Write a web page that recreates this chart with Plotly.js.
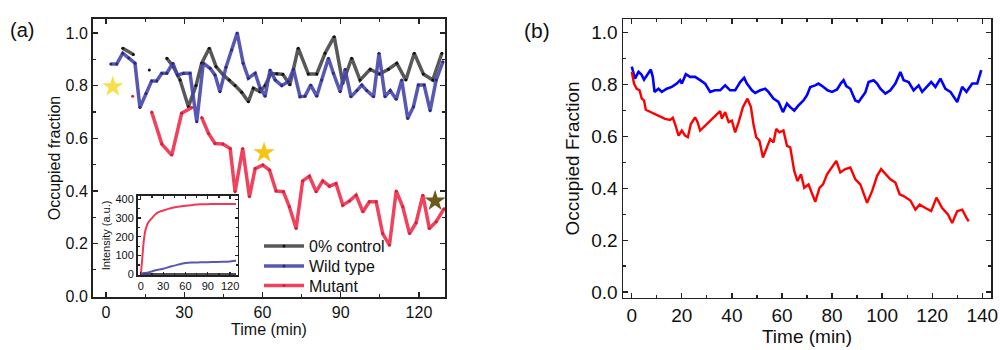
<!DOCTYPE html>
<html>
<head>
<meta charset="utf-8">
<script src="https://cdn.plot.ly/plotly-3.0.1.min.js"></script>
<style>html,body{margin:0;padding:0;background:#fff}#chart{width:1000px;height:350px}</style>
</head>
<body>
<div id="chart"></div>
<script>
// ---------- Panel (a): occupied fraction ----------
const ctrlX = [6.4, 10.5, null, 16.6, null, 23.3, 25.8, 28.4, 31.6, 34.5, 36.7, 39.6, 42.2, 45.0, 47.3, 49.5, 52.0, 54.6, 56.5, 59.0, 61.0, 63.2, 65.5, 67.8, 70.5, 73.7, 77.6, 80.8, 84.0, 87.5, 90.8, 94.2, 97.4, 101.3, 104.9, 108.3, 111.5, 115.0, 118.2, 121.7, 125.3, 128.8];
const ctrlY = [0.942, 0.918, null, 0.859, null, 0.904, 0.872, 0.821, 0.720, 0.800, 0.885, 0.942, 0.872, 0.840, 0.821, 0.800, 0.775, 0.739, 0.790, 0.777, 0.800, 0.845, 0.845, 0.843, 0.803, 0.942, 0.844, 0.844, 0.923, 0.986, 0.809, 0.904, 0.821, 0.862, 0.844, 0.862, 0.885, 0.821, 0.923, 0.844, 0.821, 0.923];

const wildX = [1.8, 4.1, 6.4, 8.7, 11.1, 13.0, 15.3, 17.5, 19.4, 21.4, 23.3, 25.6, 27.4, 29.7, 32.2, 34.8, 37.3, 39.9, 41.8, 43.7, 46.0, 48.2, 50.3, 52.6, 54.6, 57.2, 59.1, 61.0, 62.9, 64.9, 67.4, 69.9, 71.9, 74.4, 76.3, 78.5, 80.8, 82.7, 85.3, 87.2, 89.8, 91.7, 93.9, 96.2, 98.1, 100.0, 102.6, 104.7, 107.0, 109.0, 111.3, 113.4, 115.7, 117.9, 119.8, 122.0, 124.3, 126.6, 129.2];
const wildY = [0.882, 0.882, 0.923, 0.905, 0.885, 0.717, 0.770, 0.818, 0.818, 0.847, 0.847, 0.885, 0.840, 0.847, 0.847, 0.663, 0.885, 0.866, 0.840, 0.777, 0.870, 0.935, 1.000, 0.885, 0.828, 0.847, 0.790, 0.760, 0.859, 0.821, 0.800, 0.815, 0.862, 0.758, 0.760, 0.802, 0.760, 0.821, 0.904, 0.847, 0.777, 0.862, 0.758, 0.781, 0.802, 0.781, 0.758, 0.923, 0.758, 0.781, 0.748, 0.821, 0.675, 0.720, 0.802, 0.802, 0.705, 0.821, 0.891];

const mutX = [10.2, null, 17.5, 21.4, 25.2, 29.0, 32.9, null, 36.7, 39.3, 41.8, 44.8, 47.6, 49.5, 52.4, 55.0, 57.2, 60.1, 62.7, 65.2, 68.0, 70.3, 72.9, 75.4, 78.0, 80.6, 83.1, 85.7, 88.2, 90.8, 93.4, 95.9, 98.5, 101.0, 103.6, 106.1, 108.7, 111.3, 113.8, 116.4, 118.9, 121.5, 124.0, 126.6, 129.6];
const mutY = [0.760, null, 0.700, 0.578, 0.536, 0.695, 0.717, null, 0.679, 0.618, 0.580, 0.578, 0.561, 0.397, 0.561, 0.378, 0.485, 0.498, 0.479, 0.400, 0.397, 0.340, 0.257, 0.438, 0.456, 0.397, 0.438, 0.418, 0.428, 0.346, 0.362, 0.384, 0.321, 0.359, 0.359, 0.238, 0.194, 0.400, 0.340, 0.238, 0.279, 0.384, 0.257, 0.283, 0.332];

const starX = [2.6, 60.6, 126.2];
const starY = [0.796, 0.545, 0.362];
const starColors = ['#f8e04c', '#f5c414', '#6c5a1c'];

// ---------- Inset: intensity ----------
const insX = [0, 2, 4, 6, 8, 10, 15, 20, 25, 30, 40, 50, 60, 70, 80, 90, 100, 110, 120, 128];
const insMut = [0, 90, 180, 232, 258, 276, 300, 322, 333, 340, 352, 360, 366, 370, 373, 374, 375, 375, 375, 375];
const insWild = [5, 6, 7, 8, 9, 10, 16, 22, 26, 30, 42, 52, 60, 63, 64, 65, 66, 67, 69, 72];
const insCtrl = [2, 2, 2, 2, 2, 2, 2, 2, 2, 2, 2, 2, 2, 2, 2, 2, 2, 2, 2, 2];

// ---------- Panel (b) ----------
const bBlueX = [0, 1.3, 2.7, 3.8, 4.9, 6.0, 7.6, 8.4, 9.1, 10.7, 12.0, 14.0, 16.0, 18.0, 19.3, 20.0, 21.6, 23.3, 25.3, 27.3, 29.3, 31.3, 33.3, 35.3, 37.3, 39.3, 41.3, 43.3, 44.9, 46.0, 48.0, 49.3, 51.3, 53.3, 54.6, 56.6, 58.6, 60.4, 62.0, 63.3, 64.9, 66.6, 68.6, 70.0, 71.3, 73.3, 74.6, 76.6, 78.2, 80.0, 82.0, 83.6, 84.6, 85.7, 87.3, 89.3, 90.6, 92.0, 93.3, 94.6, 96.6, 98.0, 99.3, 101.3, 103.3, 105.3, 107.3, 108.6, 110.6, 112.6, 114.6, 116.0, 118.0, 119.6, 121.3, 123.3, 125.3, 127.3, 130.0, 132.0, 133.7, 136.0, 138.0, 139.6];
const bBlueY = [0.869, 0.823, 0.849, 0.840, 0.819, 0.836, 0.858, 0.830, 0.772, 0.784, 0.772, 0.784, 0.791, 0.804, 0.817, 0.804, 0.840, 0.830, 0.830, 0.817, 0.804, 0.772, 0.778, 0.778, 0.797, 0.778, 0.778, 0.810, 0.826, 0.804, 0.778, 0.768, 0.778, 0.784, 0.772, 0.746, 0.733, 0.694, 0.727, 0.713, 0.700, 0.720, 0.739, 0.759, 0.791, 0.797, 0.804, 0.791, 0.778, 0.772, 0.781, 0.806, 0.817, 0.794, 0.784, 0.739, 0.733, 0.752, 0.770, 0.810, 0.817, 0.804, 0.784, 0.765, 0.778, 0.804, 0.849, 0.817, 0.810, 0.778, 0.797, 0.772, 0.791, 0.810, 0.791, 0.823, 0.784, 0.772, 0.733, 0.791, 0.772, 0.804, 0.804, 0.856];

const bRedX = [0, 0.9, 2.0, 3.1, 4.0, 4.9, 5.6, 13.3, 15.3, 16.4, 17.3, 18.7, 20.0, 21.3, 22.4, 23.6, 25.3, 26.3, 27.3, 35.3, 36.0, 37.3, 38.7, 40.0, 41.3, 42.7, 44.4, 46.2, 47.6, 48.6, 49.7, 51.0, 52.4, 53.7, 55.3, 56.6, 57.7, 59.0, 60.6, 62.0, 63.3, 64.9, 66.2, 67.6, 68.9, 70.6, 72.0, 73.3, 75.0, 76.4, 78.0, 80.0, 81.7, 83.3, 85.3, 87.3, 89.3, 91.3, 92.9, 94.0, 96.0, 98.0, 99.6, 101.3, 103.3, 105.3, 107.0, 108.6, 111.3, 113.3, 115.0, 117.3, 119.6, 121.7, 124.0, 126.3, 128.0, 130.0, 132.0, 133.7, 134.6];
const bRedY = [0.849, 0.804, 0.784, 0.778, 0.746, 0.739, 0.703, 0.668, 0.664, 0.672, 0.648, 0.603, 0.623, 0.603, 0.597, 0.648, 0.674, 0.655, 0.623, 0.698, 0.668, 0.694, 0.655, 0.661, 0.616, 0.655, 0.713, 0.746, 0.713, 0.648, 0.597, 0.584, 0.519, 0.551, 0.590, 0.577, 0.629, 0.616, 0.623, 0.564, 0.558, 0.467, 0.428, 0.454, 0.402, 0.415, 0.383, 0.348, 0.402, 0.415, 0.454, 0.480, 0.506, 0.461, 0.474, 0.480, 0.435, 0.415, 0.370, 0.344, 0.389, 0.448, 0.474, 0.454, 0.435, 0.422, 0.377, 0.370, 0.353, 0.318, 0.337, 0.324, 0.312, 0.364, 0.324, 0.299, 0.266, 0.312, 0.318, 0.286, 0.273];

const FONT = 'Arial, "Liberation Sans", Helvetica, sans-serif';

const traces = [
  {x: ctrlX, y: ctrlY, name: '0% control', mode: 'lines+markers', xaxis: 'x', yaxis: 'y', legend: 'legend',
   line: {color: 'rgba(70,70,70,0.9)', width: 3.5}, marker: {color: '#111', size: 3}, connectgaps: false},
  {x: wildX, y: wildY, name: 'Wild type', mode: 'lines+markers', xaxis: 'x', yaxis: 'y', legend: 'legend2',
   line: {color: 'rgba(70,70,170,0.9)', width: 3.5}, marker: {color: '#2a2a80', size: 3}, connectgaps: false},
  {x: mutX, y: mutY, name: 'Mutant', mode: 'lines+markers', xaxis: 'x', yaxis: 'y', legend: 'legend3',
   line: {color: 'rgba(240,45,75,0.9)', width: 3.5}, marker: {color: '#d0203c', size: 3}, connectgaps: false},
  {x: starX, y: starY, mode: 'markers', xaxis: 'x', yaxis: 'y', showlegend: false, hoverinfo: 'skip',
   marker: {symbol: 'star', size: 16, color: starColors, line: {width: 0}}},
  // inset
  {x: insX, y: insCtrl, mode: 'lines', xaxis: 'x3', yaxis: 'y3', showlegend: false,
   line: {color: 'rgba(60,60,60,0.9)', width: 2}},
  {x: insX, y: insWild, mode: 'lines', xaxis: 'x3', yaxis: 'y3', showlegend: false,
   line: {color: 'rgba(70,70,170,0.9)', width: 2, shape: 'spline'}},
  {x: insX, y: insMut, mode: 'lines', xaxis: 'x3', yaxis: 'y3', showlegend: false,
   line: {color: 'rgba(240,45,75,0.95)', width: 2, shape: 'spline'}},
  // panel b
  {x: bBlueX, y: bBlueY, mode: 'lines', xaxis: 'x2', yaxis: 'y2', showlegend: false,
   line: {color: '#0000ff', width: 2.6}},
  {x: bRedX, y: bRedY, mode: 'lines', xaxis: 'x2', yaxis: 'y2', showlegend: false,
   line: {color: '#ff0000', width: 2.4}}
];

const axBase = {showgrid: false, zeroline: false, showline: true, mirror: 'allticks',
  ticks: 'inside', ticklen: 5, tickwidth: 1.2, tickcolor: '#222', linecolor: '#222'};

const legBase = {xanchor: 'left', yanchor: 'top', bgcolor: 'rgba(0,0,0,0)',
  font: {size: 16, family: FONT}, itemwidth: 40, tracegroupgap: 0};

const layout = {
  width: 1000, height: 350,
  margin: {l: 0, r: 0, t: 0, b: 0},
  paper_bgcolor: '#fff', plot_bgcolor: '#fff',
  font: {family: FONT, color: '#111'},
  showlegend: true,
  legend: Object.assign({}, legBase, {x: 0.259, y: 0.3451}),
  legend2: Object.assign({}, legBase, {x: 0.259, y: 0.2880}),
  legend3: Object.assign({}, legBase, {x: 0.259, y: 0.2329}),
  xaxis: Object.assign({}, axBase, {domain: [0.093, 0.445], anchor: 'y', range: [-5, 130],
    tickmode: 'linear', tick0: 0, dtick: 30, linewidth: 2,
    minor: {dtick: 15, ticklen: 3, tickcolor: '#222', ticks: 'inside'},
    tickfont: {size: 16}, title: {text: 'Time (min)', font: {size: 16}, standoff: 3}}),
  yaxis: Object.assign({}, axBase, {domain: [0.1514, 0.9457], anchor: 'x', range: [-0.003, 1.053],
    tickmode: 'linear', tick0: 0, dtick: 0.2, tickformat: '.1f', linewidth: 2,
    minor: {dtick: 0.1, ticklen: 3, tickcolor: '#222', ticks: 'inside'},
    tickfont: {size: 16}, title: {text: 'Occupied fraction', font: {size: 16}, standoff: 1}}),
  xaxis3: Object.assign({}, axBase, {domain: [0.1375, 0.2375], anchor: 'y3', range: [-4.5, 130],
    tickmode: 'linear', tick0: 0, dtick: 30, linewidth: 1.5, ticklen: 3,
    minor: {dtick: 15, ticklen: 2, tickcolor: '#222', ticks: 'inside'},
    tickfont: {size: 11}}),
  yaxis3: Object.assign({}, axBase, {domain: [0.2134, 0.4414], anchor: 'x3', range: [-5, 420],
    tickmode: 'linear', tick0: 0, dtick: 100, linewidth: 1.5, ticklen: 3,
    minor: {dtick: 50, ticklen: 2, tickcolor: '#222', ticks: 'inside'},
    tickfont: {size: 11}, title: {text: 'Intensity (a.u.)', font: {size: 11}, standoff: 2}}),
  xaxis2: Object.assign({}, axBase, {domain: [0.623, 0.991], anchor: 'y2', range: [-3.5, 143.5],
    tickmode: 'linear', tick0: 0, dtick: 20, linewidth: 1.5,
    minor: {dtick: 10, ticklen: 3, tickcolor: '#222', ticks: 'inside'},
    tickfont: {size: 19}, title: {text: 'Time (min)', font: {size: 19}, standoff: 4}}),
  yaxis2: Object.assign({}, axBase, {domain: [0.1486, 0.9457], anchor: 'x2', range: [-0.023, 1.053],
    tickmode: 'linear', tick0: 0, dtick: 0.2, tickformat: '.1f', linewidth: 1.5,
    minor: {dtick: 0.1, ticklen: 3, tickcolor: '#222', ticks: 'inside'},
    tickfont: {size: 19}, title: {text: 'Occupied Fraction', font: {size: 19}, standoff: 6}}),
  annotations: [
    {text: '(a)', xref: 'paper', yref: 'paper', x: 0.022, y: 0.914, showarrow: false,
     font: {size: 20, family: FONT}, xanchor: 'center', yanchor: 'middle'},
    {text: '(b)', xref: 'paper', yref: 'paper', x: 0.537, y: 0.914, showarrow: false,
     font: {size: 21, family: FONT}, xanchor: 'center', yanchor: 'middle'}
  ]
};

Plotly.newPlot('chart', traces, layout, {staticPlot: true, displayModeBar: false});
</script>
</body>
</html>
